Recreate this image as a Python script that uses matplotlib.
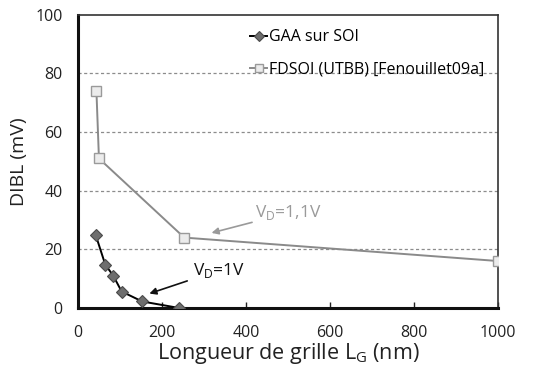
import matplotlib
matplotlib.use("Agg")
import matplotlib.pyplot as plt

plt.rcParams['font.family'] = ['Open Sans', 'DejaVu Sans']

# Gate length (nm) and DIBL (mV)
gaa_lg = [42, 65, 84, 104, 153, 240]
gaa_dibl = [25, 14.8, 11, 5.6, 2.2, 0]
fdsoi_lg = [44, 50, 253, 1000]
fdsoi_dibl = [74, 51, 24, 16]

x_ticks = [0, 200, 400, 600, 800, 1000]
y_ticks = [0, 20, 40, 60, 80, 100]

fig = plt.figure(figsize=(5.45, 3.71), dpi=100)
ax = fig.add_axes([0.143, 0.170, 0.771, 0.790])

ax.plot(gaa_lg, gaa_dibl, '-', color='black', lw=1.4, marker='D', ms=6,
        mfc='#6e6e6e', mec='#4a4a4a', mew=0.8, label='GAA sur SOI', zorder=4)
ax.plot(fdsoi_lg, fdsoi_dibl, '-', color='#8a8a8a', lw=1.4, marker='s', ms=7,
        mfc='#ececec', mec='#9a9a9a', mew=1.0,
        label='FDSOI (UTBB) [Fenouillet09a]', zorder=3)

ax.set_xlim(0, 1000)
ax.set_ylim(0, 100)
ax.set_xticks(x_ticks)
ax.set_yticks(y_ticks)
ax.tick_params(axis='both', labelsize=11.5, colors='#222222')
ax.tick_params(axis='x', direction='in', length=4, width=1, pad=12)
ax.tick_params(axis='y', length=0, pad=11)

for y in y_ticks[1:-1]:
    ax.axhline(y, color='#8c8c8c', lw=0.9, ls=(0, (2.5, 2)), zorder=1)

for side in ['left', 'bottom']:
    ax.spines[side].set_linewidth(2.2)
    ax.spines[side].set_color('#111111')
for side in ['top', 'right']:
    ax.spines[side].set_linewidth(1.2)
    ax.spines[side].set_color('#333333')

ax.set_ylabel('DIBL (mV)', fontsize=14, color='#222222', labelpad=5)
ax.set_xlabel('Longueur de grille L$_\\mathregular{G}$ (nm)', fontsize=15.5,
              color='#222222', labelpad=0)

ax.legend(loc='upper left', bbox_to_anchor=(0.375, 1.0), frameon=False,
          fontsize=11.5, handlelength=1.1, handletextpad=0.1, labelspacing=1.0,
          borderaxespad=0.5, markerscale=0.8)

ax.annotate('V$_\\mathregular{D}$=1,1V', xy=(318, 25.6), xytext=(421, 32.4),
            fontsize=12.5, color='#9a9a9a', va='center', ha='left',
            arrowprops=dict(arrowstyle='-|>', color='#9a9a9a', lw=1.2,
                            mutation_scale=10, shrinkA=0, shrinkB=0))
ax.annotate('V$_\\mathregular{D}$=1V', xy=(170, 4.9), xytext=(273, 12.8),
            fontsize=12.5, color='#111111', va='center', ha='left',
            arrowprops=dict(arrowstyle='-|>', color='#111111', lw=1.2,
                            mutation_scale=10, shrinkA=2, shrinkB=0))

fig.savefig('out.png', dpi=100)
